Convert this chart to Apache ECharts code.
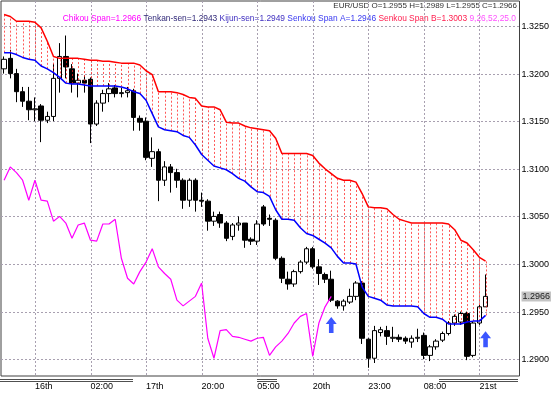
<!DOCTYPE html>
<html><head><meta charset="utf-8">
<script src="https://cdn.jsdelivr.net/npm/echarts@6/dist/echarts.min.js"></script>
<style>html,body{margin:0;padding:0;background:#fff}#c{width:552px;height:393px}</style>
</head><body><div id="c"></div>
<script>
const FONT = '"Liberation Sans", Arial, sans-serif';
const tickLabels = ['16th','02:00','17th','20:00','05:00','20th','23:00','08:00','21st'];
const tickIndex  = [5,14,23,32,41,50,59,68,77];
const priceTicks = [1.2900,1.2950,1.3000,1.3050,1.3100,1.3150,1.3200,1.3250];
const lastPrice = 1.2966;
const slotCount = 84;

const opens = [1.3205,1.3216,1.3200,1.3181,1.3171,1.3162,1.3166,1.3151,1.3155,1.3195,
1.3218,1.3205,1.3190,1.3193,1.3194,1.3147,1.3169,1.3179,1.3185,1.3179,
1.3180,1.3182,1.3153,1.3150,1.3111,1.3118,1.3088,1.3102,1.3096,1.3088,
1.3067,1.3088,1.3067,1.3066,1.3045,1.3052,1.3043,1.3029,1.3041,1.3043,
1.3026,1.3024,1.3060,1.3048,1.3046,1.3006,1.2984,1.2979,1.2992,1.3002,
1.3016,1.2997,1.2989,1.2984,1.2961,1.2956,1.2960,1.2966,1.2980,1.2921,
1.2901,1.2928,1.2930,1.2922,1.2923,1.2922,1.2918,1.2922,1.2925,1.2904,
1.2913,1.2920,1.2927,1.2938,1.2939,1.2948,1.2904,1.2938,1.2955];
const closes = [1.3215,1.3200,1.3181,1.3171,1.3162,1.3163,1.3151,1.3155,1.3195,1.3218,
1.3207,1.3190,1.3193,1.3190,1.3147,1.3169,1.3179,1.3184,1.3179,1.3180,
1.3182,1.3154,1.3149,1.3112,1.3118,1.3088,1.3102,1.3096,1.3088,1.3067,
1.3088,1.3067,1.3066,1.3045,1.3050,1.3043,1.3027,1.3041,1.3043,1.3025,
1.3024,1.3042,1.3042,1.3047,1.3006,1.2985,1.2979,1.2992,1.3002,1.3016,
1.2997,1.2990,1.2984,1.2962,1.2956,1.2961,1.2966,1.2980,1.2922,1.2901,
1.2930,1.2931,1.2924,1.2923,1.2921,1.2919,1.2922,1.2923,1.2904,1.2913,
1.2919,1.2927,1.2938,1.2945,1.2948,1.2903,1.2938,1.2955,1.2966];
const lows = [1.3200,1.3195,1.3170,1.3165,1.3151,1.3150,1.3128,1.3148,1.3150,1.3180,
1.3195,1.3180,1.3175,1.3180,1.3127,1.3145,1.3160,1.3170,1.3175,1.3175,
1.3175,1.3140,1.3140,1.3109,1.3102,1.3066,1.3082,1.3075,1.3080,1.3058,
1.3060,1.3055,1.3060,1.3035,1.3040,1.3038,1.3024,1.3025,1.3035,1.3017,
1.3020,1.3020,1.3040,1.3040,1.3004,1.2980,1.2973,1.2976,1.2990,1.3000,
1.2995,1.2978,1.2980,1.2960,1.2953,1.2951,1.2958,1.2962,1.2916,1.2891,
1.2896,1.2924,1.2915,1.2918,1.2918,1.2916,1.2912,1.2918,1.2900,1.2898,
1.2910,1.2918,1.2925,1.2935,1.2936,1.2899,1.2902,1.2936,1.2955];
const highs = [1.3218,1.3225,1.3205,1.3186,1.3186,1.3175,1.3168,1.3160,1.3210,1.3232,
1.3240,1.3210,1.3200,1.3198,1.3196,1.3172,1.3183,1.3190,1.3188,1.3185,
1.3186,1.3184,1.3156,1.3154,1.3133,1.3121,1.3108,1.3105,1.3100,1.3090,
1.3090,1.3090,1.3075,1.3068,1.3055,1.3055,1.3045,1.3043,1.3050,1.3043,
1.3028,1.3046,1.3062,1.3052,1.3048,1.3008,1.2992,1.2994,1.3004,1.3018,
1.3018,1.3005,1.2991,1.2993,1.2962,1.2963,1.2974,1.2982,1.2982,1.2922,
1.2935,1.2934,1.2935,1.2934,1.2926,1.2924,1.2925,1.2932,1.2928,1.2915,
1.2921,1.2929,1.2940,1.2947,1.2950,1.2950,1.2940,1.2957,1.2989];

const senkouA = [1.3222,1.3222,1.3220,1.3217,1.3215,1.3214,1.3208,1.3205,1.3201,1.3196,
1.3190,1.3189,1.3189,1.3188,1.3187,1.3187,1.3187,1.3187,1.3187,1.3186,
1.3184,1.3181,1.3179,1.3172,1.3158,1.3144,1.3141,1.3140,1.3139,1.3135,
1.3133,1.3125,1.3115,1.3109,1.3103,1.3101,1.3099,1.3095,1.3090,1.3087,
1.3081,1.3076,1.3075,1.3071,1.3057,1.3047,1.3047,1.3046,1.3038,1.3032,
1.3030,1.3026,1.3022,1.3017,1.3008,1.3001,1.3001,1.3000,1.2976,1.2966,
1.2964,1.2962,1.2957,1.2956,1.2956,1.2956,1.2956,1.2955,1.2948,1.2944,
1.2944,1.2942,1.2937,1.2937,1.2937,1.2939,1.2940,1.2940,1.2946];
const senkouB = [1.3262,1.3260,1.3255,1.3255,1.3255,1.3254,1.3248,1.3234,1.3218,1.3216,
1.3216,1.3216,1.3216,1.3215,1.3214,1.3214,1.3213,1.3213,1.3212,1.3211,
1.3211,1.3211,1.3209,1.3203,1.3199,1.3181,1.3181,1.3181,1.3180,1.3178,
1.3175,1.3174,1.3166,1.3165,1.3165,1.3162,1.3149,1.3148,1.3148,1.3145,
1.3143,1.3142,1.3141,1.3140,1.3132,1.3116,1.3116,1.3116,1.3116,1.3116,
1.3114,1.3106,1.3100,1.3095,1.3090,1.3088,1.3088,1.3086,1.3074,1.3060,
1.3059,1.3059,1.3058,1.3052,1.3047,1.3045,1.3043,1.3043,1.3043,1.3043,
1.3043,1.3043,1.3042,1.3036,1.3025,1.3022,1.3015,1.3007,1.3003];
const chikou = [1.3088,1.3102,1.3096,1.3088,1.3067,1.3088,1.3067,1.3066,1.3045,1.3050,
1.3043,1.3027,1.3041,1.3043,1.3025,1.3024,1.3042,1.3042,1.3047,1.3006,
1.2985,1.2979,1.2992,1.3002,1.3016,1.2997,1.2990,1.2984,1.2962,1.2956,
1.2961,1.2966,1.2980,1.2922,1.2901,1.2930,1.2931,1.2924,1.2923,1.2921,
1.2919,1.2922,1.2923,1.2904,1.2913,1.2919,1.2927,1.2938,1.2945,1.2948,
1.2903,1.2938,1.2955,1.2966];
const arrowIdx = [53, 78];
const arrowPrice = [1.2936, 1.2921];

const header1 = 'EUR/USD O=1.2955 H=1.2989 L=1.2955 C=1.2966';
const header2 = [
  ['c','Chikou Span=1.2966'],['t','Tenkan-sen=1.2943'],['k','Kijun-sen=1.2949'],
  ['a','Senkou Span A=1.2946'],['b','Senkou Span B=1.3003'],['p','9,26,52,25.0']
];

const yMin = 1.288235, yMax = 1.327626;
const cats = Array.from({length: slotCount}, (_, i) => String(i));
const candleData = opens.map((o, i) => [o, closes[i], lows[i], highs[i]]);
const cloudData = senkouA.map((a, i) => [i, a, senkouB[i]]);
const labelMap = {}; tickIndex.forEach((t, k) => labelMap[t] = tickLabels[k]);
const GRID_STROKE = '#a8a0b0';

const chart = echarts.init(document.getElementById('c'), null, {renderer: 'canvas'});
chart.setOption({
  animation: false,
  backgroundColor: '#ffffff',
  textStyle: {fontFamily: FONT},
  grid: {left: 1, top: 1, width: 518.5, height: 375, show: true, borderColor: '#404040', borderWidth: 1, backgroundColor: '#ffffff'},
  xAxis: {
    type: 'category', data: cats, boundaryGap: true,
    axisLine: {show: false}, axisTick: {show: false}, splitLine: {show: false},
    axisLabel: {
      interval: (i) => labelMap[i] !== undefined,
      formatter: (v, i) => labelMap[i] || '',
      align: 'left', margin: 6, color: '#000', fontSize: 9, fontFamily: FONT
    }
  },
  yAxis: {
    type: 'value', min: yMin, max: yMax, position: 'right', scale: true,
    axisLine: {show: false}, axisTick: {show: false}, axisLabel: {show: false}, splitLine: {show: false}
  },
  series: [
    {
      type: 'custom', z: 1, silent: true, clip: false,
      data: priceTicks.map(p => [0, p]), encode: {x: 0, y: 1},
      renderItem: (params, api) => {
        const cs = params.coordSys;
        const v = api.value(1);
        const y = Math.round(api.coord([0, v])[1]) + 0.5;
        return {type: 'group', children: [
          {type: 'line', shape: {x1: cs.x, y1: y, x2: cs.x + cs.width, y2: y},
            style: {stroke: GRID_STROKE, lineWidth: 1, lineDash: [2, 2]}},
          {type: 'text', style: {text: v.toFixed(4), x: cs.x + cs.width + 2, y: y,
            verticalAlign: 'middle', align: 'left', font: '9px ' + FONT, fill: '#000'}}
        ]};
      }
    },
    {
      type: 'custom', z: 1, silent: true, clip: false,
      data: tickIndex.map(i => [i, yMin]), encode: {x: 0, y: 1},
      renderItem: (params, api) => {
        const cs = params.coordSys;
        const x = Math.round(api.coord([api.value(0), yMin])[0]) + 0.5;
        return {type: 'line', shape: {x1: x, y1: cs.y, x2: x, y2: cs.y + cs.height},
          style: {stroke: GRID_STROKE, lineWidth: 1, lineDash: [2, 2]}};
      }
    },
    {
      type: 'candlestick', data: candleData, z: 2, barWidth: 5,
      itemStyle: {color: '#ffffff', color0: '#000000', borderColor: '#000000', borderColor0: '#000000', borderWidth: 1}
    },
    {
      type: 'custom', z: 3, silent: true, data: cloudData,
      renderItem: (params, api) => {
        const a = api.coord([api.value(0), api.value(1)]);
        const b = api.coord([api.value(0), api.value(2)]);
        const x = Math.round(a[0]) + 0.5;
        return {type: 'line', shape: {x1: x, y1: a[1], x2: x, y2: b[1]},
          style: {stroke: '#ff2020', lineWidth: 1, lineDash: [2, 2], opacity: 0.75}};
      }
    },
    {type: 'line', data: senkouA, z: 4, symbol: 'none', silent: true, lineStyle: {color: '#0000ff', width: 1.5}},
    {type: 'line', data: senkouB, z: 4, symbol: 'none', silent: true, lineStyle: {color: '#ff0000', width: 1.5}},
    {type: 'line', data: chikou, z: 4, symbol: 'none', silent: true, lineStyle: {color: '#ff00ff', width: 1.2}},
    {
      type: 'scatter', z: 5, silent: true,
      data: arrowIdx.map((x, k) => [x, arrowPrice[k]]),
      symbol: 'path://M6,0 L12,7 L8.5,7 L8.5,16 L3.5,16 L3.5,7 L0,7 Z',
      symbolSize: [11, 16], itemStyle: {color: '#0a2cff'}
    },
    {
      type: 'custom', z: 6, silent: true, clip: false,
      data: [[78, lastPrice]], encode: {x: 0, y: 1},
      renderItem: (params, api) => {
        const cs = params.coordSys;
        const v = api.value(1);
        const y = Math.round(api.coord([0, v])[1]) + 0.5;
        return {type: 'text', style: {text: v.toFixed(4), x: cs.x + cs.width + 2, y: y,
          verticalAlign: 'middle', align: 'left', font: '9px ' + FONT, fill: '#202020',
          backgroundColor: '#c4c4c4', padding: [1, 1, 0, 1]}};
      }
    }
  ],
  graphic: [
    {type: 'text', right: 35, top: 2, style: {text: header1, font: '8px ' + FONT, fill: '#303030'}},
    {type: 'text', right: 36, top: 15, style: {
      text: header2.map(h => '{' + h[0] + '|' + h[1] + '}').join(' '),
      font: '8.4px ' + FONT,
      rich: {
        c: {fill: '#ff00ff', font: '8.4px ' + FONT}, t: {fill: '#302878', font: '8.4px ' + FONT},
        k: {fill: '#4030c0', font: '8.4px ' + FONT}, a: {fill: '#3838f0', font: '8.4px ' + FONT},
        b: {fill: '#ff2050', font: '8.4px ' + FONT}, p: {fill: '#ff50ff', font: '8.4px ' + FONT}
      }
    }},
    ...[[0,133],[257,277],[439,518]].flatMap(s => [379.5, 381.5].map(y => ({
      type: 'line', silent: true, shape: {x1: s[0], y1: y, x2: s[1], y2: y}, style: {stroke: '#505050', lineWidth: 1}
    })))
  ]
});
</script></body></html>
